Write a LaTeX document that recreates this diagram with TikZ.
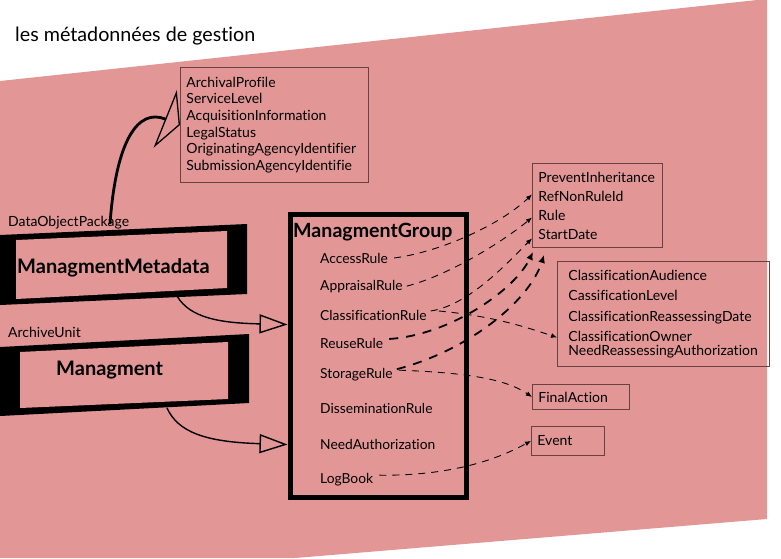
\documentclass[tikz,border=0pt]{standalone}
\usepackage{fontspec}
\setmainfont{Lato}[Ligatures=CommonOff]
\usetikzlibrary{arrows.meta,calc}
\definecolor{bgpink}{RGB}{226,150,150}
\definecolor{boxline}{RGB}{105,65,65}
\begin{document}
\begin{tikzpicture}[x=1pt,y=-1pt,
  txt/.style={font=\fontsize{13.8}{16}\selectfont, inner sep=0pt, anchor=base west},
  bigtxt/.style={font=\fontsize{20}{24}\selectfont\bfseries, inner sep=0pt, anchor=base west},
  listbox/.style={draw=boxline, line width=0.9pt, anchor=north west, align=left,
    font=\fontsize{14}{16.6}\selectfont, inner ysep=0pt},
  thindash/.style={line width=0.9pt, dash pattern=on 7pt off 6pt, -{Latex[length=6pt,width=5pt]}},
  thickdash/.style={line width=1.8pt, dash pattern=on 9pt off 8pt, -{Latex[length=8pt,width=7pt]}},
  handarrow/.style={line width=1.4pt, -{Triangle[open,length=28pt,width=19pt,line width=1.4pt]}},
  tiltbox/.style={fill=black}
]
\useasboundingbox (0,0) rectangle (781,558);
% background
\fill[bgpink] (0,81) -- (757,0) -- (767,0) -- (767,519) -- (295,558) -- (0,558) -- cycle;

% title
\node[txt, font=\fontsize{19.7}{23}\selectfont] (title) at (15,41) {les métadonnées de gestion};

% top list box
\node[listbox, text width=176pt, inner xsep=6pt, minimum width=188pt, minimum height=115pt] (profile) at (180,67)
  {ArchivalProfile\\ServiceLevel\\AcquisitionInformation\\LegalStatus\\OriginatingAgencyIdentifier\\SubmissionAgencyIdentifie};

% labels
\node[txt, font=\fontsize{14}{16}\selectfont] (dop) at (8,226) {DataObjectPackage};
\node[txt, font=\fontsize{14}{16}\selectfont] (au) at (8,337) {ArchiveUnit};

% tilted boxes
\fill[tiltbox] (0,235) -- (247,224) -- (247,294) -- (0,305) -- cycle;
\fill[bgpink] (16,240) -- (227,231) -- (227,288) -- (16,299) -- cycle;
\node[bigtxt] (mm) at (17,273) {ManagmentMetadata};
\fill[tiltbox] (0,347) -- (249,334) -- (249,403) -- (0,416) -- cycle;
\fill[bgpink] (20,352) -- (228,342) -- (228,399) -- (20,408) -- cycle;
\node[bigtxt] (mgt) at (56,375) {Managment};
\coordinate (mmbot) at (177,296);
\coordinate (mbot) at (167,408);
\coordinate (dopstart) at (110,224);

% ManagmentGroup
\node[draw, line width=5pt, minimum width=176pt, minimum height=283pt, anchor=north west, inner sep=0pt] (mg) at (287.5,211.5) {};
\node[bigtxt, font=\fontsize{19.6}{23}\selectfont\bfseries] (mgtitle) at (293,237) {ManagmentGroup};
\node[txt] (access) at (320,263) {AccessRule};
\node[txt] (appraisal) at (320,290) {AppraisalRule};
\node[txt] (classif) at (320,320) {ClassificationRule};
\node[txt] (reuse) at (320,348) {ReuseRule};
\node[txt] (storage) at (320,378) {StorageRule};
\node[txt] (dissem) at (320,413) {DisseminationRule};
\node[txt] (needauth) at (320,449) {NeedAuthorization};
\node[txt] (logbook) at (320,483) {LogBook};

% right boxes
\node[listbox, font=\fontsize{14}{19}\selectfont, text width=118pt, inner xsep=6pt, minimum width=130pt, minimum height=84pt] (boxa) at (532,163)
  {PreventInheritance\\RefNonRuleId\\Rule\\StartDate};
\node[listbox, font=\fontsize{14}{20.5}\selectfont, text width=190pt, inner xsep=11pt, minimum width=206pt, minimum height=105pt] (boxb) at (557,261)
  {ClassificationAudience\\CassificationLevel\\ClassificationReassessingDate\\ClassificationOwner\\[-6.5pt]NeedReassessingAuthorization};
\node[listbox, text width=85pt, inner xsep=6pt, minimum width=97pt, minimum height=25pt] (final) at (532,384) {FinalAction};
\node[listbox, text width=61pt, inner xsep=6pt, minimum width=73pt, minimum height=29pt] (event) at (531,426) {Event};

% hand drawn arrows
\draw[line width=2.8pt, -{Triangle[open,length=16pt,width=62pt,line width=1.3pt]}]
  (dopstart) .. controls (116,140) and (138,108) .. (profile.west);
\draw[handarrow] (mmbot) .. controls (190,318) and (220,323) .. ([yshift=31pt]mg.west);
\draw[handarrow] (mbot) .. controls (178,432) and (205,442) .. ([yshift=-89pt]mg.west);

% dashed arrows
\draw[thindash] ([xshift=6pt]access.east) .. controls (440,252) and (500,225) .. ([yshift=11pt]boxa.west);
\draw[thindash] ([xshift=4pt]appraisal.east) .. controls (450,275) and (505,240) .. ([yshift=-12pt]boxa.west);
\draw[thindash] ([xshift=4pt,yshift=4pt]classif.east) .. controls (470,305) and (510,260) .. ([yshift=-33pt]boxa.west);
\draw[thickdash] ([xshift=6pt,yshift=4pt]reuse.east) .. controls (450,335) and (515,290) .. ([xshift=1pt,yshift=-4pt]boxa.south west);
\draw[thickdash] ([xshift=4pt,yshift=5pt]storage.east) .. controls (470,350) and (530,300) .. ([xshift=12pt,yshift=-7pt]boxa.south west);
\draw[thindash] ([xshift=12pt,yshift=4pt]classif.east) .. controls (490,316) and (520,325) .. ([yshift=-23.5pt]boxb.west);
\draw[thindash] ([xshift=6pt,yshift=4pt]storage.east) .. controls (480,373) and (510,382) .. (final.west);
\draw[thindash] ([xshift=6pt,yshift=4pt]logbook.east) .. controls (460,476) and (505,455) .. (event.west);
\end{tikzpicture}
\end{document}
